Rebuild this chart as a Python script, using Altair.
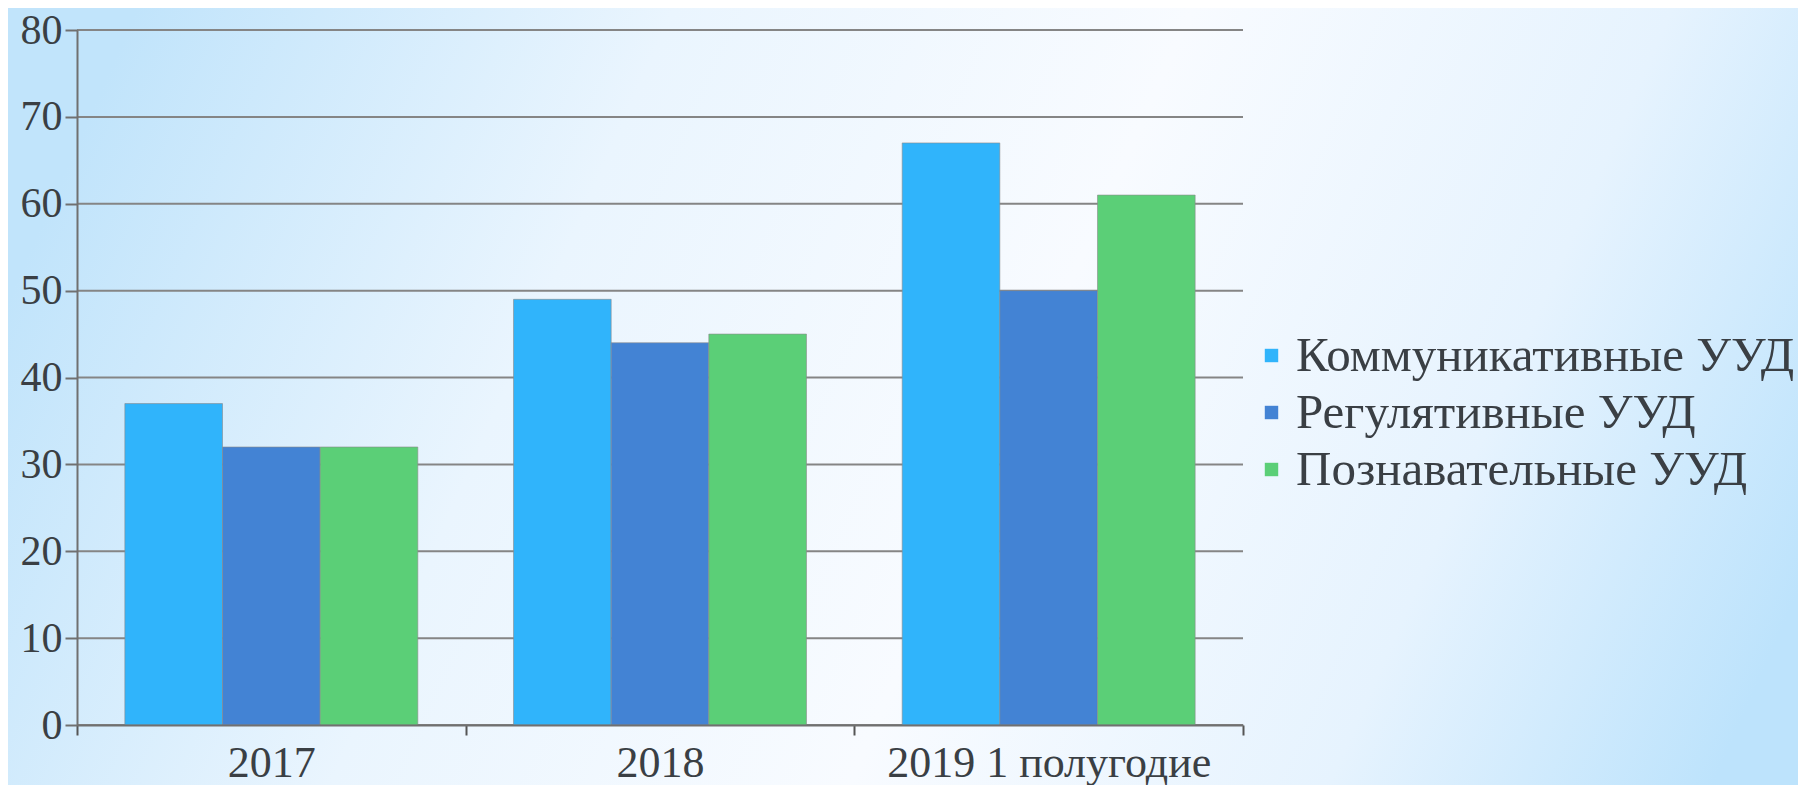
import altair as alt
import pandas as pd

categories = ["2017", "2018", "2019 1 полугодие"]
series = ["Коммуникативные УУД", "Регулятивные УУД", "Познавательные УУД"]
values = {
    "Коммуникативные УУД": [37, 49, 67],
    "Регулятивные УУД": [32, 44, 50],
    "Познавательные УУД": [32, 45, 61],
}
colors = ["#30B4FB", "#4383D4", "#5BCF77"]
y_ticks = [0, 10, 20, 30, 40, 50, 60, 70, 80]

rows = []
for s in series:
    for c, v in zip(categories, values[s]):
        rows.append({"cat": c, "series": s, "value": v})
df = pd.DataFrame(rows)
grid_df = pd.DataFrame({"tick": y_ticks})

FONT = "Liberation Serif, DejaVu Serif, serif"
TXT = "#3a3f44"

W, H = 1166, 695

bg = alt.Chart(pd.DataFrame({"a": [1]})).mark_rect(
    fill=alt.LinearGradient(
        gradient="linear", x1=0, y1=0.4, x2=1, y2=0.6,
        stops=[
            alt.GradientStop(offset=0, color="#c1e4fb"),
            alt.GradientStop(offset=0.28, color="#eaf5fe"),
            alt.GradientStop(offset=0.55, color="#f8fbff"),
            alt.GradientStop(offset=0.8, color="#e6f3fe"),
            alt.GradientStop(offset=1, color="#bde3fc"),
        ],
    )
).encode(
    x=alt.value(-80), x2=alt.value(W + 600),
    y=alt.value(-40), y2=alt.value(H + 100),
)

yscale = alt.Scale(domain=[0, 80], nice=False)
yaxis = alt.Axis(values=y_ticks, labelFont=FONT, labelFontSize=42,
                 labelColor=TXT, labelPadding=3, tickSize=12,
                 tickColor="#707070", tickWidth=2,
                 domainColor="#707070", domainWidth=2,
                 grid=False, zindex=1)

grid = alt.Chart(grid_df).mark_rule(color="#858585", strokeWidth=2).encode(
    y=alt.Y("tick:Q", scale=yscale, axis=yaxis, title=None),
    x=alt.value(0), x2=alt.value(W),
)

bars = alt.Chart(df).mark_bar(
    stroke="#8a8a8a", strokeWidth=1, strokeOpacity=0.6
).encode(
    x=alt.X("cat:N", sort=categories, title=None,
            scale=alt.Scale(paddingInner=0, paddingOuter=0),
            axis=alt.Axis(labelAngle=0, labelFont=FONT, labelFontSize=44,
                          labelColor=TXT, labelPadding=6, tickBand="extent",
                          labelLimit=800,
                          tickSize=10, tickColor="#555", tickWidth=2,
                          domainColor="#707070", domainWidth=2, grid=False,
                          zindex=1)),
    xOffset=alt.XOffset("series:N", sort=series,
                        scale=alt.Scale(paddingInner=0, paddingOuter=0.49)),
    y=alt.Y("value:Q", title=None, scale=yscale, axis=yaxis),
    color=alt.Color("series:N", sort=series,
                    scale=alt.Scale(domain=series, range=colors),
                    legend=alt.Legend(title=None, orient="none",
                                      legendX=1170, legendY=301,
                                      symbolType="square", symbolSize=180,
                                      symbolStrokeWidth=0, labelFont=FONT,
                                      labelFontSize=49, labelColor=TXT,
                                      labelLimit=800,
                                      labelOffset=0, rowPadding=7, padding=0)),
)

chart = alt.layer(bg, grid, bars).properties(
    width=W, height=H,
    autosize=alt.AutoSizeParams(type="none"),
    padding={"left": 69, "top": 22, "right": 555, "bottom": 60},
    background="#eef7fe",
).configure(font=FONT).configure_legend(labelFont=FONT).configure_view(stroke=None)

chart.save("out.html", embed_options={"renderer": "svg", "actions": False})
